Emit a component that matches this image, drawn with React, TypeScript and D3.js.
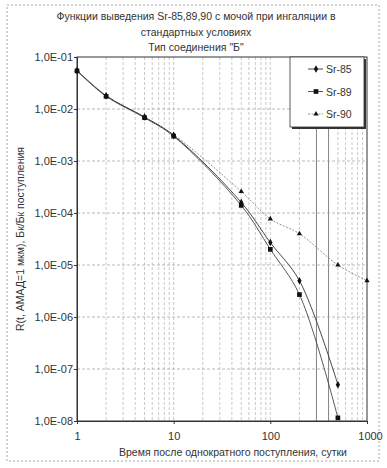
import React, { useEffect, useRef } from 'react';
import * as d3 from 'd3';

// time points, days
const times = [1, 2, 5, 10, 50, 100, 200, 500];
const timesSr90 = [1, 2, 5, 10, 50, 100, 200, 500, 1000];

const sr85 = [5.5e-2, 1.8e-2, 7.0e-3, 3.1e-3, 1.6e-4, 2.7e-5, 5.0e-6, 5.0e-8];
const sr89 = [5.4e-2, 1.75e-2, 6.8e-3, 3.0e-3, 1.4e-4, 2.0e-5, 2.7e-6, 1.15e-8];
const sr90 = [5.5e-2, 1.8e-2, 7.0e-3, 3.2e-3, 2.6e-4, 7.7e-5, 4.0e-5, 1.0e-5, 5.0e-6];

const yTicks = [1e-1, 1e-2, 1e-3, 1e-4, 1e-5, 1e-6, 1e-7, 1e-8];
const xTicks = [1, 10, 100, 1000];
const seriesNames = ['Sr-85', 'Sr-89', 'Sr-90'];

const titleLines = [
  'Функции выведения Sr-85,89,90 с мочой при ингаляции в',
  'стандартных условиях',
  'Тип соединения "Б"',
];
const xTitle = 'Время после однократного поступления, сутки';
const yTitle = 'R(t, АМАД=1 мкм), Бк/Бк поступления';

const font = '"Liberation Sans", Arial, sans-serif';

const App = () => {
  const ref = useRef<SVGSVGElement>(null);

  useEffect(() => {
    const svg = d3.select(ref.current);
    svg.selectAll('*').remove();

    const left = 77, right = 367, top = 57, bottom = 421;
    const x = d3.scaleLog().domain([1, 1000]).range([left, right]);
    const y = d3.scaleLog().domain([1e-8, 1e-1]).range([bottom, top]);

    // outer frame
    svg.append('rect')
      .attr('x', 7).attr('y', 5).attr('width', 372).attr('height', 456)
      .attr('fill', 'white').attr('stroke', '#aaa').attr('stroke-dasharray', '2,2')

    // title
    svg.append('g').selectAll('text')
      .data(titleLines)
      .enter()
      .append('text')
      .attr('x', 196)
      .attr('y', (d, i) => 20 + i * 15.5)
      .attr('text-anchor', 'middle')
      .attr('font-family', font)
      .attr('font-size', '10.5px')
      .attr('fill', '#333')
      .text((d) => d);

    // vertical grid (major + minor)
    const xGrid: number[] = [];
    for (let dec = 1; dec < 1000; dec *= 10) {
      for (let k = 1; k < 10; k++) xGrid.push(dec * k);
    }
    svg.append('g').selectAll('line')
      .data(xGrid.filter((v) => v > 1))
      .enter()
      .append('line')
      .attr('x1', (d) => x(d)).attr('x2', (d) => x(d))
      .attr('y1', top).attr('y2', bottom)
      .attr('stroke', (d) => ([300, 400].includes(d) ? '#666' : '#bbb'))
      .attr('stroke-width', 0.8)
      .attr('stroke-dasharray', (d) => ([300, 400].includes(d) ? null : '3,2'));

    // horizontal grid
    svg.append('g').selectAll('line')
      .data(yTicks.slice(1, -1))
      .enter()
      .append('line')
      .attr('x1', left).attr('x2', right)
      .attr('y1', (d) => y(d)).attr('y2', (d) => y(d))
      .attr('stroke', '#aaa')
      .attr('stroke-width', 0.8)
      .attr('stroke-dasharray', '3,2');

    // plot frame
    svg.append('rect')
      .attr('x', left).attr('y', top)
      .attr('width', right - left).attr('height', bottom - top)
      .attr('fill', 'none').attr('stroke', '#333').attr('stroke-width', 1);

    // y axis
    const yAxis = svg.append('g')
      .attr('transform', `translate(${left},0)`)
      .call(d3.axisLeft(y).tickValues(yTicks).tickSize(3)
        .tickFormat((d) => `1,0E-0${Math.round(-Math.log10(d as number))}`));
    yAxis.select('.domain').attr('stroke', '#333');
    yAxis.selectAll('.tick line').attr('stroke', '#333');
    yAxis.selectAll('.tick text')
      .attr('font-family', font).attr('font-size', '11px').attr('fill', '#333').attr('x', -4);

    // x axis
    const xAxis = svg.append('g')
      .attr('transform', `translate(0,${bottom})`)
      .call(d3.axisBottom(x).tickValues(xTicks).tickSize(3).tickFormat((d) => String(d)));
    xAxis.select('.domain').attr('stroke', '#333');
    xAxis.selectAll('.tick line').attr('stroke', '#333');
    xAxis.selectAll('.tick text')
      .attr('font-family', font).attr('font-size', '11px').attr('fill', '#333').attr('y', 11)
      .attr('dx', (d) => (d === 1000 ? 3 : 0));

    // axis titles
    svg.append('text')
      .attr('x', 233).attr('y', 456)
      .attr('text-anchor', 'middle')
      .attr('font-family', font).attr('font-size', '10.5px').attr('fill', '#333')
      .text(xTitle);
    svg.append('text')
      .attr('transform', `translate(24,${(top + bottom) / 2}) rotate(-90)`)
      .attr('text-anchor', 'middle')
      .attr('font-family', font).attr('font-size', '10.5px').attr('fill', '#333')
      .text(yTitle);

    const line = d3.line<[number, number]>()
      .x((d) => x(d[0]))
      .y((d) => y(d[1]))
      .curve(d3.curveCatmullRom.alpha(0.5));

    const plot = svg.append('g');
    const s85 = times.map((t, i) => [t, sr85[i]] as [number, number]);
    const s89 = times.map((t, i) => [t, sr89[i]] as [number, number]);
    const s90 = timesSr90.map((t, i) => [t, sr90[i]] as [number, number]);

    plot.append('path').attr('d', line(s90)).attr('fill', 'none')
      .attr('stroke', '#888').attr('stroke-width', 0.9).attr('stroke-dasharray', '2,1.5');
    plot.append('path').attr('d', line(s89)).attr('fill', 'none')
      .attr('stroke', '#444').attr('stroke-width', 0.9);
    plot.append('path').attr('d', line(s85)).attr('fill', 'none')
      .attr('stroke', '#333').attr('stroke-width', 0.9);

    const diamond = d3.symbol().type(d3.symbolDiamond).size(16);
    const square = d3.symbol().type(d3.symbolSquare).size(22);
    const triangle = d3.symbol().type(d3.symbolTriangle).size(12);

    plot.append('g').selectAll('path').data(s90).enter().append('path')
      .attr('d', triangle()).attr('fill', '#111')
      .attr('transform', (d) => `translate(${x(d[0])},${y(d[1])})`);
    plot.append('g').selectAll('path').data(s89).enter().append('path')
      .attr('d', square()).attr('fill', '#111')
      .attr('transform', (d) => `translate(${x(d[0])},${y(d[1])})`);
    plot.append('g').selectAll('path').data(s85).enter().append('path')
      .attr('d', diamond()).attr('fill', '#111')
      .attr('transform', (d) => `translate(${x(d[0])},${y(d[1])})`);

    // legend
    const lg = svg.append('g').attr('transform', 'translate(290,57)');
    lg.append('rect').attr('x', 2).attr('y', 2).attr('width', 74).attr('height', 70).attr('fill', '#333');
    lg.append('rect').attr('width', 74).attr('height', 70)
      .attr('fill', 'white').attr('stroke', '#333').attr('stroke-width', 0.8);
    const symbols = [diamond, square, triangle];
    const colors = ['#333', '#444', '#888'];
    seriesNames.forEach((name, i) => {
      const ly = 12 + i * 22.5;
      lg.append('line').attr('x1', 18).attr('x2', 33).attr('y1', ly).attr('y2', ly)
        .attr('stroke', colors[i]).attr('stroke-width', 0.9)
        .attr('stroke-dasharray', i === 2 ? '2,1.5' : null);
      lg.append('path').attr('d', symbols[i]()).attr('fill', '#111')
        .attr('transform', `translate(26,${ly})`);
      lg.append('text').attr('x', 36).attr('y', ly + 4)
        .attr('font-family', font).attr('font-size', '10.5px').attr('fill', '#333')
        .text(name);
    });
  });

  return (
    <svg ref={ref} width={387} height={468}
      style={{ position: 'absolute', left: 0, top: 0, background: 'white' }} />
  );
};

export default App;
